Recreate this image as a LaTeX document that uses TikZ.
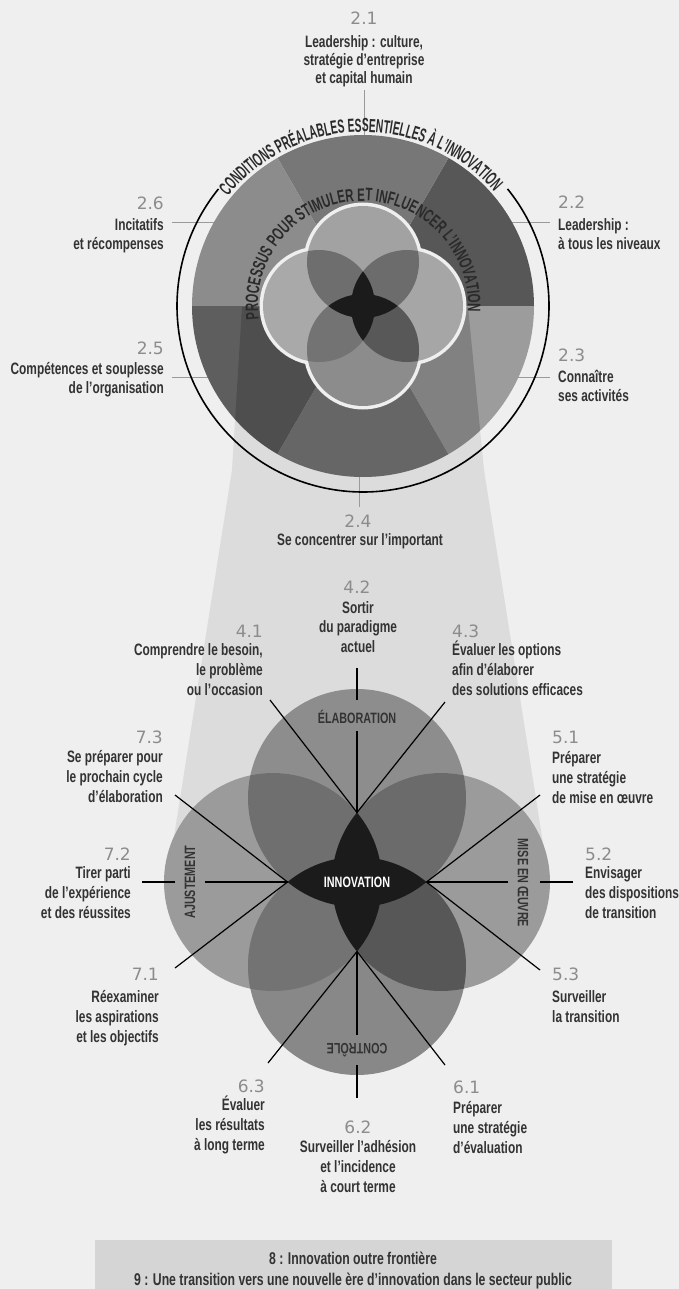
\documentclass[tikz,border=0pt]{standalone}
\usepackage{fontspec}
\setmainfont{Liberation Sans}
\newfontfamily\condf{Liberation Sans}[FakeStretch=0.72]
\newfontfamily\arcfA{Liberation Sans}[FakeStretch=0.54]
\newfontfamily\arcfB{Liberation Sans}[FakeStretch=0.635]
\newfontfamily\numf{DejaVu Sans}
\usetikzlibrary{decorations.text}

\definecolor{bgc}{HTML}{EFEFEF}
\definecolor{labc}{HTML}{333333}
\definecolor{arcc}{HTML}{2A2A2A}
\definecolor{numc}{HTML}{8C8C8C}
\definecolor{tickc}{HTML}{9A9A9A}
\definecolor{func}{HTML}{DCDCDC}
\definecolor{boxc}{HTML}{D5D5D5}
\definecolor{sA}{HTML}{777777}
\definecolor{sB}{HTML}{575757}
\definecolor{sC}{HTML}{9C9C9C}
\definecolor{sD}{HTML}{7B7B7B}
\definecolor{sE}{HTML}{5E5E5E}
\definecolor{sF}{HTML}{8C8C8C}
% top flower
\definecolor{tTc}{HTML}{A2A2A2}
\definecolor{tLc}{HTML}{A9A9A9}
\definecolor{tRc}{HTML}{A6A6A6}
\definecolor{tBc}{HTML}{8C8C8C}
\definecolor{tTL}{HTML}{6E6E6E}
\definecolor{tTR}{HTML}{6C6C6C}
\definecolor{tBL}{HTML}{737373}
\definecolor{tBR}{HTML}{585858}
% bottom flower
\definecolor{bTc}{HTML}{8D8D8D}
\definecolor{bLc}{HTML}{9B9B9B}
\definecolor{bRc}{HTML}{9B9B9B}
\definecolor{bBc}{HTML}{888888}
\definecolor{bTL}{HTML}{6F6F6F}
\definecolor{bTR}{HTML}{6B6B6B}
\definecolor{bBL}{HTML}{737373}
\definecolor{bBR}{HTML}{575757}
\definecolor{starc}{HTML}{1B1B1B}

\newcommand\Lab{\condf\bfseries\fontsize{16.5}{19}\selectfont}
\newcommand\Num{\numf\fontsize{17}{19}\selectfont}
\newcommand\Cap{\condf\bfseries\fontsize{15}{17}\selectfont}
\newcommand\Boxf{\condf\bfseries\fontsize{17}{19}\selectfont}
\newcommand\ArcA{\arcfA\bfseries\fontsize{19}{19}\selectfont}
\newcommand\ArcB{\arcfB\bfseries\fontsize{18}{18}\selectfont}

\newcommand\lablines[6]{%
  \foreach \ltext [count=\li] in {#6}{%
    \node[labt, anchor=#2] (#1\li) at ({#3},{-(#4)-(#5)*(\li-1)}) {\ltext};}}

\def\funnelpath{(242,-307) -- (232,-470) -- (170,-862) -- (357,-882) -- (546,-862) -- (484,-470) -- (468,-307) -- cycle}

\begin{document}
\begin{tikzpicture}[x=1pt,y=1pt,
  labt/.style={font=\Lab,text=labc,inner sep=0pt},
  numt/.style={font=\Num,text=numc,inner sep=0pt},
  capt/.style={font=\Cap,text=labc,inner sep=0pt},
  boxt/.style={font=\Boxf,text=labc,inner sep=0pt},
  tickl/.style={draw=tickc,line width=1pt},
  conn/.style={draw=black,line width=1.2pt}]
\useasboundingbox (0,0) rectangle (679,-1289);
\fill[bgc] (0,0) rectangle (679,-1289);
\coordinate (C) at (363,-306);
\coordinate (F) at (357,-882);

% funnel
\fill[func] \funnelpath;

% ticks of the top labels
\coordinate (k21a) at (364,-90);  \coordinate (k21b) at (364,-135);
\coordinate (k26a) at (172,-223); \coordinate (k26b) at (214,-223);
\coordinate (k25a) at (172,-377); \coordinate (k25b) at (208,-377);
\coordinate (k22a) at (512,-223); \coordinate (k22b) at (550,-223);
\coordinate (k23a) at (518,-377); \coordinate (k23b) at (550,-377);
\coordinate (k24a) at (359,-477); \coordinate (k24b) at (359,-507);
\draw[tickl] (k21a) -- (k21b);
\draw[tickl] (k26a) -- (k26b);
\draw[tickl] (k25a) -- (k25b);
\draw[tickl] (k22a) -- (k22b);
\draw[tickl] (k23a) -- (k23b);
\draw[tickl] (k24a) -- (k24b);

% disk sectors
\foreach \a/\col in {0/sB,60/sA,120/sF,180/sE,240/sD,300/sC}
  \fill[\col] (C) -- ++(\a:171) arc[start angle=\a,end angle=\a+60,radius=171] -- cycle;
\begin{scope}
  \clip (C) circle[radius=171];
  \fill[black,opacity=0.17] \funnelpath;
\end{scope}

% ring and its text
\draw[black,line width=1.6pt] (C) ++(39:186) arc[start angle=39,end angle=-219,radius=186];
\path[decorate,decoration={text along path,
  text={|\ArcA|CONDITIONS PRÉALABLES ESSENTIELLES À L’INNOVATION},
  text align=center,text color=arcc}]
  (C) ++(141:174) arc[start angle=141,end angle=41,radius=174];

% top flower
\path (C) ++(0,44) coordinate (tT);
\path (C) ++(-44,0) coordinate (tL);
\path (C) ++(44,0) coordinate (tR);
\path (C) ++(0,-44) coordinate (tB);
\foreach \p in {tT,tL,tR,tB}
  \draw[bgc,line width=7pt] (\p) circle[radius=56];
\fill[tTc] (tT) circle[radius=56];
\fill[tLc] (tL) circle[radius=56];
\fill[tRc] (tR) circle[radius=56];
\fill[tBc] (tB) circle[radius=56];
\begin{scope}\clip (tT) circle[radius=56];
  \fill[tTL] (tL) circle[radius=56];
  \fill[tTR] (tR) circle[radius=56];
\end{scope}
\begin{scope}\clip (tB) circle[radius=56];
  \fill[tBL] (tL) circle[radius=56];
  \fill[tBR] (tR) circle[radius=56];
\end{scope}
\begin{scope}\clip (tT) circle[radius=56]; \fill[starc] (tB) circle[radius=56]; \end{scope}
\begin{scope}\clip (tL) circle[radius=56]; \fill[starc] (tR) circle[radius=56]; \end{scope}

\path[decorate,decoration={text along path,
  text={|\ArcB|PROCESSUS POUR STIMULER ET INFLUENCER L’INNOVATION},
  text align=center,text color=arcc}]
  (C) ++(190:105) arc[start angle=190,end angle=-6,radius=105];

% bottom flower
\path (F) ++(0,84) coordinate (bT);
\path (F) ++(-84,0) coordinate (bL);
\path (F) ++(84,0) coordinate (bR);
\path (F) ++(0,-84) coordinate (bB);
\fill[bTc] (bT) circle[radius=109];
\fill[bLc] (bL) circle[radius=109];
\fill[bRc] (bR) circle[radius=109];
\fill[bBc] (bB) circle[radius=109];
\begin{scope}\clip (bT) circle[radius=109];
  \fill[bTL] (bL) circle[radius=109];
  \fill[bTR] (bR) circle[radius=109];
\end{scope}
\begin{scope}\clip (bB) circle[radius=109];
  \fill[bBL] (bL) circle[radius=109];
  \fill[bBR] (bR) circle[radius=109];
\end{scope}
\begin{scope}\clip (bT) circle[radius=109]; \fill[starc] (bB) circle[radius=109]; \end{scope}
\begin{scope}\clip (bL) circle[radius=109]; \fill[starc] (bR) circle[radius=109]; \end{scope}

% tips of the star
\path (F) ++(0,69.5) coordinate (pT);
\path (F) ++(69.5,0) coordinate (pR);
\path (F) ++(0,-69.5) coordinate (pB);
\path (F) ++(-69.5,0) coordinate (pL);

% free ends of connectors
\coordinate (e41) at (270,-700); \coordinate (e43) at (445,-702);
\coordinate (g42a) at (357,-731); \coordinate (g42b) at (357,-700); \coordinate (e42) at (357,-668);
\coordinate (e51) at (540,-795); \coordinate (e53) at (540,-970);
\coordinate (g52a) at (508,-882); \coordinate (g52b) at (540,-882); \coordinate (e52) at (573,-882);
\coordinate (e61) at (445,-1065); \coordinate (e63) at (268,-1063);
\coordinate (g62a) at (357,-1035); \coordinate (g62b) at (357,-1065); \coordinate (e62) at (357,-1098);
\coordinate (e73) at (175,-795); \coordinate (e71) at (175,-968);
\coordinate (g72a) at (205,-882); \coordinate (g72b) at (175,-882); \coordinate (e72) at (142,-882);

\draw[conn] (pT) -- (e41);
\draw[conn] (pT) -- (e43);
\draw[conn] (pT) -- (g42a);
\draw[conn] (g42b) -- (e42);
\draw[conn] (pR) -- (e51);
\draw[conn] (pR) -- (e53);
\draw[conn] (pR) -- (g52a);
\draw[conn] (g52b) -- (e52);
\draw[conn] (pB) -- (e61);
\draw[conn] (pB) -- (e63);
\draw[conn] (pB) -- (g62a);
\draw[conn] (g62b) -- (e62);
\draw[conn] (pL) -- (e73);
\draw[conn] (pL) -- (e71);
\draw[conn] (pL) -- (g72a);
\draw[conn] (g72b) -- (e72);

\node[capt] (elab) at (357,-717) {ÉLABORATION};
\node[capt,rotate=-90] (mise) at (523,-883) {MISE EN ŒUVRE};
\node[capt,rotate=90] (ajus) at (190,-882) {AJUSTEMENT};
\node[capt,rotate=180] (ctrl) at (357,-1050) {CONTRÔLE};
\node[capt,text=white] (innov) at (F) {INNOVATION};

% top labels
\node[numt,anchor=base] (n21) at (364,-25) {2.1};
\lablines{l21}{base}{364}{48}{18}{{Leadership : culture,},stratégie d’entreprise,et capital humain}
\node[numt,anchor=base east] (n26) at (164,-210) {2.6};
\lablines{l26}{base east}{164}{231}{19}{Incitatifs,et récompenses}
\node[numt,anchor=base east] (n25) at (164,-354) {2.5};
\lablines{l25}{base east}{164}{374}{19}{Compétences et souplesse,de l’organisation}
\node[numt,anchor=base west] (n22) at (558,-209) {2.2};
\lablines{l22}{base west}{558}{230}{19}{Leadership :,à tous les niveaux}
\node[numt,anchor=base west] (n23) at (558,-361) {2.3};
\lablines{l23}{base west}{558}{382}{19}{Connaître,ses activités}
\node[numt,anchor=base] (n24) at (358,-527) {2.4};
\lablines{l24}{base}{360}{545}{19}{Se concentrer sur l’important}

% bottom labels
\node[numt,anchor=base] (n42) at (357,-593) {4.2};
\lablines{l42}{base}{358}{613}{19.5}{Sortir,du paradigme,actuel}
\node[numt,anchor=base east] (n41) at (263,-637) {4.1};
\lablines{l41}{base east}{263}{655}{20}{{Comprendre le besoin,},le problème,ou l’occasion}
\node[numt,anchor=base west] (n43) at (452,-637) {4.3};
\lablines{l43}{base west}{452}{655}{20}{Évaluer les options,afin d’élaborer,des solutions efficaces}
\node[numt,anchor=base east] (n73) at (163,-743) {7.3};
\lablines{l73}{base east}{163}{762}{20}{Se préparer pour,le prochain cycle,d’élaboration}
\node[numt,anchor=base east] (n72) at (131,-860) {7.2};
\lablines{l72}{base east}{131}{878}{20}{Tirer parti,de l’expérience,et des réussites}
\node[numt,anchor=base east] (n71) at (159,-980) {7.1};
\lablines{l71}{base east}{159}{1002}{20}{Réexaminer,les aspirations,et les objectifs}
\node[numt,anchor=base west] (n51) at (552,-743) {5.1};
\lablines{l51}{base west}{552}{763}{20}{Préparer,une stratégie,de mise en œuvre}
\node[numt,anchor=base west] (n52) at (585,-860) {5.2};
\lablines{l52}{base west}{585}{878}{20}{Envisager,des dispositions,de transition}
\node[numt,anchor=base west] (n53) at (552,-980) {5.3};
\lablines{l53}{base west}{552}{1002}{20}{Surveiller,la transition}
\node[numt,anchor=base east] (n63) at (265,-1092) {6.3};
\lablines{l63}{base east}{265}{1110}{20}{Évaluer,les résultats,à long terme}
\node[numt,anchor=base] (n62) at (358,-1133) {6.2};
\lablines{l62}{base}{358}{1152}{20}{Surveiller l’adhésion,et l’incidence,à court terme}
\node[numt,anchor=base west] (n61) at (453,-1093) {6.1};
\lablines{l61}{base west}{453}{1113}{20}{Préparer,une stratégie,d’évaluation}

% bottom box
\fill[boxc] (95,-1240) rectangle (612,-1289);
\node[boxt,anchor=base] (b8) at (353,-1264) {8 : Innovation outre frontière};
\node[boxt,anchor=base] (b9) at (353,-1285) {9 : Une transition vers une nouvelle ère d’innovation dans le secteur public};
\end{tikzpicture}
\end{document}
